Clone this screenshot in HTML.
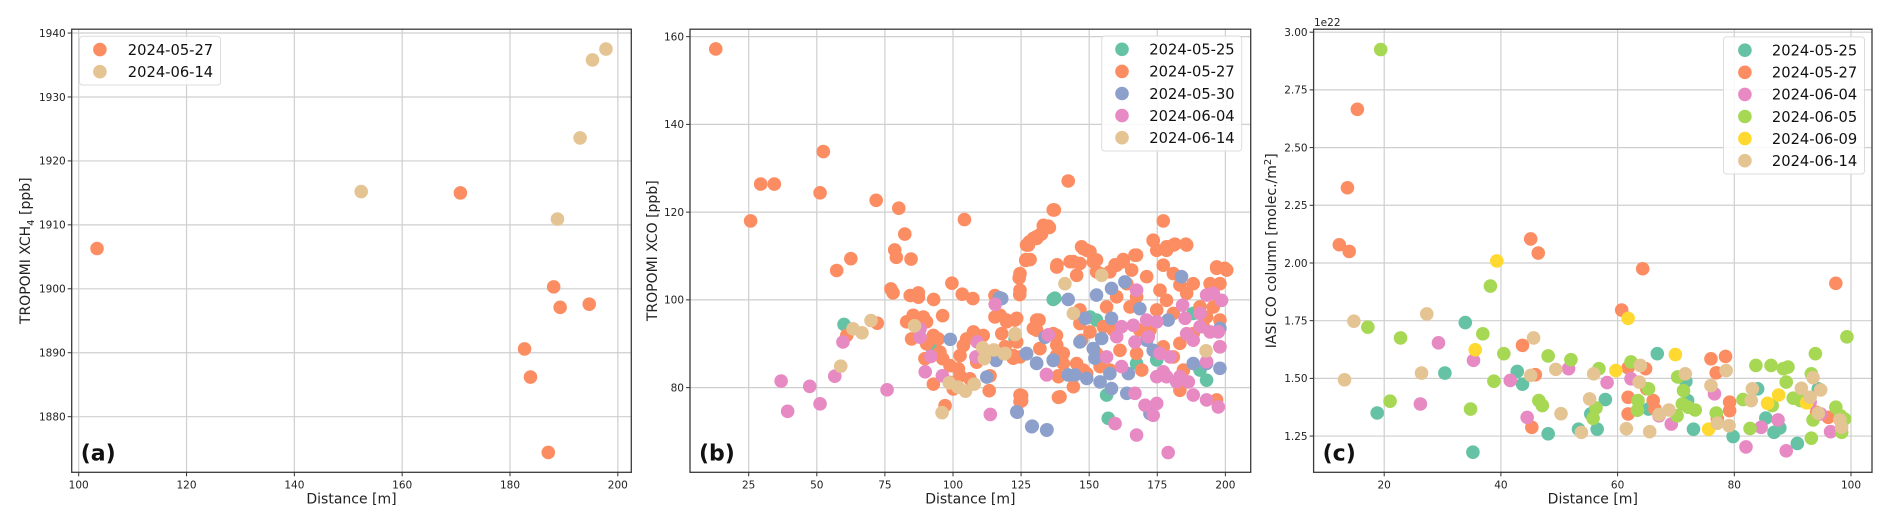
<!DOCTYPE html>
<html><head><meta charset="utf-8"><style>
html,body{margin:0;padding:0;background:#fff;}
svg{display:block;font-family:"DejaVu Sans","Liberation Sans",sans-serif;}
</style></head><body>
<svg id="chart" width="1892" height="526" viewBox="0 0 1892 526" xmlns="http://www.w3.org/2000/svg">
<rect x="0" y="0" width="1892" height="526" fill="#fff"/>
</svg>
<script>
// ---------- Panel (a) data ----------
const aX0527 = [103.4,170.8,182.7,183.8,188.1,189.3,194.7,187.1];
const aY0527 = [1906.3,1915.0,1890.6,1886.2,1900.3,1897.1,1897.6,1874.4];
const aX0614 = [152.4,188.8,193.0,195.3,197.8];
const aY0614 = [1915.2,1910.9,1923.6,1935.8,1937.5];
const aXTicks = [100,120,140,160,180,200];
const aYTicks = [1880,1890,1900,1910,1920,1930,1940];

// ---------- Panel (b) data ----------
const bX0525 = [60.0,92.2,122.8,137.4,136.8,152.7,150.3,167.4,174.8,156.4,157.0,193.1,190.7,190.7,188.2];
const bY0525 = [94.4,89.2,91.1,100.4,100.1,95.4,96.1,85.5,86.3,78.3,73.0,81.7,84.0,98.4,96.9];
const bX0527 = [12.9,25.7,29.4,34.4,52.4,51.2,71.8,80.1,82.3,78.6,79.2,84.6,62.5,57.3,104.2,99.6,77.2,78.0,84.3,87.3,87.3,92.9,96.2,103.4,107.3,115.4,124.3,124.5,126.7,128.0,130.7,132.5,133.2,135.0,137.2,138.2,
85.4,89.1,90.3,83.0,84.8,89.7,92.8,94.6,92.8,97.1,100.1,102.0,102.6,103.8,105.0,107.5,108.7,111.1,113.6,113.3,117.9,119.7,122.8,123.4,122.1,125.2,125.2,131.6,130.7,131.9,138.0,138.0,138.7,138.7,72.2,61.0,95.2,98.9,102.6,106.2,117.3,115.4,98.9,90.3,96.2,
142.3,136.8,133.2,135.4,130.7,127.7,126.8,177.2,173.5,181.5,185.5,178.4,147.2,149.1,196.8,199.8,166.8,162.5,159.5,138.1,144.2,152.7,
129.5,131.9,127.0,124.6,124.6,128.3,119.7,123.4,130.7,129.5,119.1,124.6,122.1,131.9,136.8,138.1,140.5,140.5,138.7,139.3,124.6,124.6,138.1,143.0,146.6,147.8,150.3,151.5,152.7,145.4,146.6,146.6,150.3,147.2,145.4,147.8,144.2,154.0,157.6,160.1,162.5,167.4,165.6,163.8,171.1,167.4,160.1,156.4,155.2,152.7,154.0,149.1,158.9,161.3,157.6,167.4,169.3,173.5,174.8,178.4,180.9,185.8,177.2,180.9,176.0,174.8,172.3,178.4,183.3,185.8,180.9,188.2,190.7,194.4,196.8,200.5,198.0,195.6,193.1,198.0,198.0,183.3,180.9,184.6,183.3,196.8,177.2,188.2,191.9,165.0,168.6];
const bY0527 = [157.2,118.0,126.4,126.4,133.8,124.4,122.7,120.9,115.0,111.4,109.7,109.3,109.4,106.7,118.3,103.8,102.5,101.6,101.0,101.6,100.6,100.1,96.4,101.3,100.3,101.0,105.0,101.2,109.0,113.2,114.4,115.0,117.0,116.8,120.5,108.0,
96.5,96.1,95.0,95.0,91.1,86.6,91.9,91.1,80.8,75.9,79.7,84.3,87.3,89.6,91.1,92.7,85.8,91.9,82.7,79.3,92.3,95.0,95.4,90.4,87.3,78.2,77.0,95.4,93.1,88.9,91.9,87.3,82.7,77.8,94.7,91.9,88.1,85.0,82.7,82.0,96.5,96.1,81.2,90.0,86.6,
127.1,120.5,116.8,116.5,114.0,112.5,109.2,118.0,113.5,112.7,112.7,111.3,112.1,111.3,107.5,107.2,110.2,109.2,108.0,107.5,108.7,109.1,
114.0,114.8,112.5,106.0,102.2,109.2,95.4,95.8,95.4,93.5,89.3,87.0,86.7,88.9,92.3,89.7,87.8,85.5,82.5,77.9,78.3,76.8,107.5,108.7,108.3,111.7,111.0,108.7,106.4,105.6,97.7,94.6,92.7,90.8,85.5,84.0,80.2,106.0,106.4,107.9,108.7,110.2,106.8,103.7,105.3,100.7,100.7,98.4,93.9,87.8,84.8,83.2,93.1,88.5,84.0,87.8,84.0,113.6,111.3,112.1,112.5,112.5,107.9,106.0,102.2,97.7,93.1,99.9,103.4,101.5,96.9,103.7,98.4,103.7,107.2,106.8,103.7,98.4,96.1,95.4,89.3,90.1,87.0,84.0,79.4,77.2,89.3,92.3,93.9,98.4,93.1];
const bX0530 = [99.0,117.0,127.0,130.7,136.8,115.8,112.4,123.6,129.1,134.5,133.8,117.9,142.3,152.7,158.2,163.1,168.6,148.5,158.2,154.6,146.6,151.5,152.1,127.0,130.7,136.8,142.3,144.8,149.1,154.0,157.6,158.2,164.4,163.8,171.1,173.5,179.0,183.9,188.2,193.1,198.0,198.0,123.4,128.9,134.4,172.3];
const bY0530 = [91.0,100.5,87.7,85.6,86.2,86.2,82.4,74.4,71.2,70.4,91.5,100.3,100.1,101.1,102.6,104.1,98.0,95.8,95.8,91.2,90.4,88.9,86.7,87.8,85.5,86.3,82.9,82.9,82.1,81.3,83.2,79.8,83.2,78.7,90.8,88.5,95.4,105.3,85.5,85.5,84.4,93.5,74.5,71.1,70.3,74.1];
const bX0604 = [36.9,39.3,47.4,51.2,56.6,59.6,75.8,87.9,87.9,89.8,91.9,96.1,108.9,108.4,115.5,134.3,135.0,113.7,167.4,135.0,134.4,156.4,161.9,
160.1,161.9,166.2,171.1,174.8,166.8,171.7,176.0,179.7,183.3,185.2,185.8,188.2,190.7,193.1,195.6,198.6,194.4,197.4,198.0,193.1,178.4,174.8,177.2,182.1,186.4,188.2,193.1,197.4,170.5,173.5,174.8,166.8,159.5,167.4,179.0,190.7,184.3];
const bY0604 = [81.5,74.6,80.3,76.3,82.6,90.4,79.5,91.5,93.4,83.6,87.1,82.7,90.4,87.0,99.0,83.0,92.0,73.9,102.2,92.0,82.9,87.0,84.8,
91.6,93.9,94.2,95.4,95.0,90.4,91.6,87.8,87.0,82.5,95.8,92.3,90.8,93.9,101.1,101.5,99.9,92.7,92.7,89.3,85.9,82.5,82.5,83.6,81.3,81.3,78.3,77.2,75.6,76.0,73.7,76.4,78.7,71.8,69.2,65.2,96.9,98.8];
const bX0614 = [58.8,63.3,66.6,69.9,85.9,96.0,98.6,101.9,104.6,107.8,110.9,111.5,115.0,118.8,122.8,141.1,154.6,144.2,122.8,119.1,192.9];
const bY0614 = [84.9,93.4,92.5,95.3,94.1,74.3,81.1,80.1,79.2,80.8,89.1,86.6,88.6,87.7,92.1,103.7,105.6,96.9,92.3,87.8,88.4];
const bXTicks = [25,50,75,100,125,150,175,200];
const bYTicks = [80,100,120,140,160];

// ---------- Panel (c) data (units of 1e22) ----------
const cX0525 = [18.8,30.4,33.9,35.2,42.8,43.7,48.1,53.3,56.5,57.9,55.4,65.3,66.8,71.7,72.0,73.0,79.8,84.0,85.4,86.8,87.8,90.8,94.4];
const cY0525 = [1.350,1.523,1.742,1.180,1.530,1.475,1.260,1.280,1.280,1.408,1.346,1.367,1.607,1.487,1.404,1.280,1.248,1.455,1.328,1.266,1.285,1.218,1.455];
const cX0527 = [12.3,14.0,13.7,15.4,43.7,45.1,46.4,45.9,45.3,64.3,60.7,61.8,61.8,61.8,64.8,65.0,66.1,66.4,76.0,76.9,78.5,79.2,79.2,97.4,94.1,96.1,77.1];
const cY0527 = [2.079,2.050,2.326,2.666,1.643,2.104,2.043,1.516,1.288,1.975,1.796,1.546,1.418,1.346,1.542,1.455,1.404,1.367,1.585,1.524,1.595,1.397,1.360,1.912,1.353,1.331,1.324];
const cX0604 = [26.2,29.3,35.3,41.6,44.5,51.6,58.2,62.3,67.1,69.2,76.6,82.0,84.6,87.5,88.9,93.0,96.5,94.8];
const cY0604 = [1.389,1.654,1.578,1.491,1.331,1.542,1.482,1.498,1.338,1.302,1.433,1.203,1.288,1.320,1.186,1.397,1.269,1.346];
const cX0605 = [19.4,17.2,22.8,21.0,34.8,36.9,38.2,38.8,40.5,48.1,46.5,47.1,52.0,56.8,56.3,55.8,62.3,63.5,63.4,65.3,70.3,70.2,71.3,71.1,72.1,73.3,76.9,81.5,82.7,83.7,86.3,86.5,88.4,89.2,88.9,90.1,91.3,93.2,93.5,93.2,93.9,97.4,98.2,98.9,98.4,99.3];
const cY0605 = [2.925,1.722,1.675,1.401,1.367,1.693,1.900,1.488,1.607,1.597,1.404,1.382,1.581,1.542,1.372,1.327,1.571,1.404,1.362,1.455,1.506,1.338,1.447,1.389,1.375,1.363,1.350,1.408,1.283,1.556,1.556,1.382,1.542,1.549,1.484,1.414,1.404,1.520,1.320,1.241,1.607,1.375,1.338,1.324,1.266,1.680];
const cX0609 = [39.3,35.6,59.7,61.8,69.9,75.6,85.7,87.6,92.4];
const cY0609 = [2.009,1.624,1.534,1.760,1.603,1.280,1.392,1.428,1.394];
const cX0614 = [13.2,14.8,26.4,27.3,45.6,45.1,49.4,50.3,53.8,55.2,55.9,61.5,63.9,63.7,65.5,67.1,68.8,71.6,76.0,77.1,78.6,79.1,82.9,83.1,91.5,93.5,93.0,94.8,94.4,98.1,98.4];
const cY0614 = [1.494,1.748,1.523,1.779,1.675,1.513,1.539,1.347,1.266,1.411,1.520,1.282,1.556,1.484,1.269,1.343,1.363,1.520,1.469,1.306,1.534,1.295,1.404,1.455,1.457,1.503,1.418,1.450,1.349,1.320,1.288];
const cXTicks = [20,40,60,80,100];
const cYTicks = [1.25,1.50,1.75,2.00,2.25,2.50,2.75,3.00];
const cYTickLabels = ["1.25","1.50","1.75","2.00","2.25","2.50","2.75","3.00"];

const C = {d0525:"#66c2a5", d0527:"#fc8d62", d0530:"#8da0cb", d0604:"#e78ac3", d0605:"#a6d854", d0609:"#ffd92f", d0614:"#e5c494"};
const NS = "http://www.w3.org/2000/svg";
const svg = document.getElementById("chart");
const R = 6.8;

function mk(tag, parent){ const e = document.createElementNS(NS, tag); parent.appendChild(e); return e; }
function lin(d0,d1,r0,r1){ return v => r0 + (v-d0)/(d1-d0)*(r1-r0); }

function panel(p){
  const g = mk("g", svg);
  
  
  const sx = lin(p.xd[0],p.xd[1],p.L,p.Rt), sy = lin(p.yd[0],p.yd[1],p.B,p.T);
  const grid = mk("g", g);
  
  
  p.xt.forEach(t => { const l = mk("line", grid); l.setAttribute("x1",sx(t)); l.setAttribute("x2",sx(t)); l.setAttribute("y1",p.T); l.setAttribute("y2",p.B); l.setAttribute("stroke","#cfcfcf"); l.setAttribute("stroke-width","1.2"); });
  p.yt.forEach(t => { const l = mk("line", grid); l.setAttribute("x1",p.L); l.setAttribute("x2",p.Rt); l.setAttribute("y1",sy(t)); l.setAttribute("y2",sy(t)); l.setAttribute("stroke","#cfcfcf"); l.setAttribute("stroke-width","1.2"); });
  // points
  p.series.forEach(s => {
    const sg = mk("g", g);
    
    
    s.x.forEach((xv,i) => {
      const c = mk("circle", sg);
      
      
      c.setAttribute("cx", sx(xv)); c.setAttribute("cy", sy(s.y[i])); c.setAttribute("r", R); c.setAttribute("fill", s.color);
    });
  });
  // frame
  const fr = mk("rect", g);
  
  
  fr.setAttribute("x",p.L); fr.setAttribute("y",p.T); fr.setAttribute("width",p.Rt-p.L); fr.setAttribute("height",p.B-p.T); fr.setAttribute("fill","none"); fr.setAttribute("stroke","#3a3a3a"); fr.setAttribute("stroke-width","1.3");
  // ticks
  p.xt.forEach(t => {
    const l = mk("line", g); l.setAttribute("x1",sx(t)); l.setAttribute("x2",sx(t)); l.setAttribute("y1",p.B); l.setAttribute("y2",p.B+4); l.setAttribute("stroke","#333");
    const tx = mk("text", g);
    
    
    tx.setAttribute("x",sx(t)); tx.setAttribute("y",p.B+16); tx.setAttribute("text-anchor","middle"); tx.setAttribute("font-size","10.5"); tx.setAttribute("fill","#222"); tx.textContent = String(t);
  });
  p.yt.forEach((t,i) => {
    const l = mk("line", g); l.setAttribute("x1",p.L-4); l.setAttribute("x2",p.L); l.setAttribute("y1",sy(t)); l.setAttribute("y2",sy(t)); l.setAttribute("stroke","#333");
    const tx = mk("text", g);
    
    
    tx.setAttribute("x",p.L-6); tx.setAttribute("y",sy(t)+3.8); tx.setAttribute("text-anchor","end"); tx.setAttribute("font-size","10.5"); tx.setAttribute("fill","#222"); tx.textContent = p.ytl ? p.ytl[i] : String(t);
  });
  // axis labels
  const xl = mk("text", g);
  
  
  xl.setAttribute("x",(p.L+p.Rt)/2); xl.setAttribute("y",p.B+31); xl.setAttribute("text-anchor","middle"); xl.setAttribute("font-size","14"); xl.setAttribute("fill","#222"); xl.textContent = "Distance [m]";
  const yl = mk("text", g);
  
  
  const cy = (p.T+p.B)/2;
  yl.setAttribute("transform","translate("+p.ylx+","+cy+") rotate(-90)"); yl.setAttribute("text-anchor","middle"); yl.setAttribute("font-size","14"); yl.setAttribute("fill","#222");
  yl.innerHTML = p.ylabel;
  // panel letter
  const pl = mk("text", g);
  
  
  pl.setAttribute("x",p.L+9); pl.setAttribute("y",p.B-12); pl.setAttribute("font-size","22"); pl.setAttribute("font-weight","bold"); pl.setAttribute("fill","#111"); pl.textContent = p.letter;
  // legend
  const lg = mk("g", g);
  
  
  const lb = mk("rect", lg);
  lb.setAttribute("x",p.leg.x); lb.setAttribute("y",p.leg.y); lb.setAttribute("width",p.leg.w); lb.setAttribute("height",p.series.length*22.1+4.5); lb.setAttribute("rx","3"); lb.setAttribute("fill","#fff"); lb.setAttribute("fill-opacity","0.85"); lb.setAttribute("stroke","#dcdcdc");
  p.series.forEach((s,i) => {
    const yy = p.leg.y + 13.3 + i*22.1;
    const ent = mk("g", lg);
    
    
    const c = mk("circle", ent); c.setAttribute("cx",p.leg.mx); c.setAttribute("cy",yy); c.setAttribute("r",R); c.setAttribute("fill",s.color);
    const t = mk("text", ent); t.setAttribute("x",p.leg.tx); t.setAttribute("y",yy+5.3); t.setAttribute("font-size","14.7"); t.setAttribute("fill","#111"); t.textContent = s.label;
  });
  return g;
}

panel({name:"panel-a", L:71.7, Rt:631.3, T:29.2, B:472.3, xd:[98.7,202.5], yd:[1871.3,1940.6], xt:aXTicks, yt:aYTicks,
  ylx:30, ylabel:'TROPOMI XCH<tspan font-size="10" dy="4">4</tspan><tspan dy="-4"> [ppb]</tspan>', letter:"(a)",
  leg:{x:79.5,y:36.3,w:141,mx:99.9,tx:127.8},
  series:[{label:"2024-05-27",color:C.d0527,x:aX0527,y:aY0527},{label:"2024-06-14",color:C.d0614,x:aX0614,y:aY0614}]});

panel({name:"panel-b", L:690, Rt:1250.7, T:29.2, B:472.3, xd:[3.45,209.3], yd:[60.7,161.7], xt:bXTicks, yt:bYTicks,
  ylx:657, ylabel:'TROPOMI XCO [ppb]', letter:"(b)",
  leg:{x:1101.7,y:36,w:140,mx:1122,tx:1149.3},
  series:[{label:"2024-05-25",color:C.d0525,x:bX0525,y:bY0525},{label:"2024-05-27",color:C.d0527,x:bX0527,y:bY0527},{label:"2024-05-30",color:C.d0530,x:bX0530,y:bY0530},{label:"2024-06-04",color:C.d0604,x:bX0604,y:bY0604},{label:"2024-06-14",color:C.d0614,x:bX0614,y:bY0614}]});

panel({name:"panel-c", L:1313.6, Rt:1872, T:29.2, B:472.3, xd:[7.9,103.6], yd:[1.093,3.013], xt:cXTicks, yt:cYTicks, ytl:cYTickLabels,
  ylx:1276, ylabel:'IASI CO column [molec./m<tspan font-size="10" dy="-5">2</tspan><tspan dy="5">]</tspan>', letter:"(c)",
  leg:{x:1723.5,y:36.9,w:141,mx:1744.9,tx:1771.9},
  series:[{label:"2024-05-25",color:C.d0525,x:cX0525,y:cY0525},{label:"2024-05-27",color:C.d0527,x:cX0527,y:cY0527},{label:"2024-06-04",color:C.d0604,x:cX0604,y:cY0604},{label:"2024-06-05",color:C.d0605,x:cX0605,y:cY0605},{label:"2024-06-09",color:C.d0609,x:cX0609,y:cY0609},{label:"2024-06-14",color:C.d0614,x:cX0614,y:cY0614}]});

const off = mk("text", svg);


off.setAttribute("x","1314"); off.setAttribute("y","26"); off.setAttribute("font-size","10.5"); off.setAttribute("fill","#222"); off.textContent = "1e22";
</script>
</body></html>
